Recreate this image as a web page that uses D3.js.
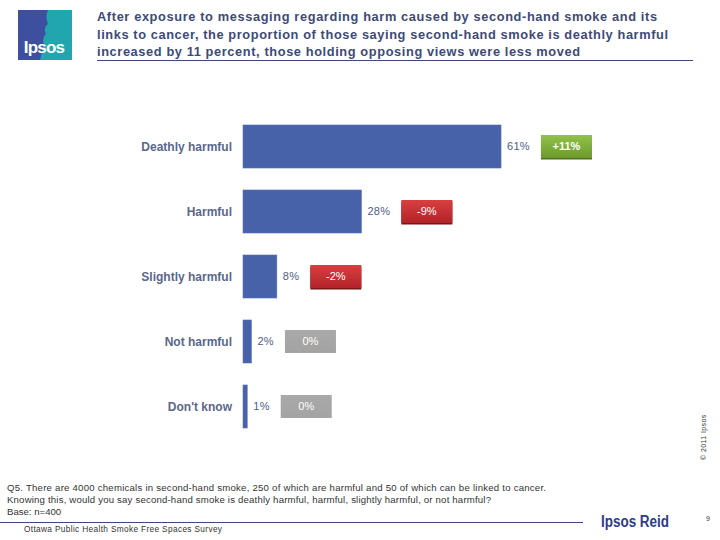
<!DOCTYPE html>
<html><head><meta charset="utf-8">
<script src="https://cdn.jsdelivr.net/npm/d3@7"></script>
<style>
html,body{margin:0;padding:0;background:#fff;}
svg{display:block;font-family:"Liberation Sans",Arial,sans-serif;}
</style></head>
<body>
<svg id="chart" width="720" height="540"></svg>
<script>
const categories = ["Deathly harmful","Harmful","Slightly harmful","Not harmful","Don't know"];
const values = [61, 28, 8, 2, 1];
const changes = [11, -9, -2, 0, 0];
const titleLines = [
  "After exposure to messaging regarding harm caused by second-hand smoke and its",
  "links to cancer, the proportion of those saying second-hand smoke is deathly harmful",
  "increased by 11 percent, those holding opposing views were less moved"
];
const footnoteLines = [
  "Q5.  There are 4000 chemicals in second-hand smoke, 250 of which are harmful and 50 of which can be linked to cancer.",
  "Knowing this, would you say second-hand smoke is deathly harmful, harmful, slightly harmful, or not harmful?",
  "Base: n=400"
];
const surveyName = "Ottawa Public Health Smoke Free Spaces Survey";

const svg = d3.select("#chart");
const defs = svg.append("defs");
function grad(id, top, bot){
  const g = defs.append("linearGradient").attr("id", id).attr("x1",0).attr("y1",0).attr("x2",0).attr("y2",1);
  g.append("stop").attr("offset","0%").attr("stop-color",top);
  g.append("stop").attr("offset","100%").attr("stop-color",bot);
}
grad("gGreen", "#92c24a", "#6c9a2c");
grad("gRed", "#d8403f", "#b3232a");
grad("gGray", "#a9a9a9", "#a3a3a3");

// Logo
const logo = svg.append("g");
logo.append("rect").attr("x",18).attr("y",10).attr("width",54).attr("height",50).attr("fill","#3e4fa0");
logo.append("path").attr("d","M48,10 L72,10 L72,60 L40,60 L44,44 C42,40 44,36 46,34 C44,30 45,26 48,24 C46,20 46,14 48,10 Z").attr("fill","#21a5ae");
logo.append("text").attr("x",44).attr("y",53).attr("text-anchor","middle").attr("fill","#fff")
  .attr("font-weight","bold").attr("font-size",17).attr("letter-spacing",-0.8).text("Ipsos");

// Title
const titleWidths = [560, 571, 483];
const title = svg.append("g");
titleLines.forEach((t,i)=>{
  title.append("text").attr("x",97).attr("y",21+i*17.5).attr("fill","#3d4a78")
    .attr("font-weight","bold").attr("font-size",12.8)
    .attr("textLength",titleWidths[i]).attr("lengthAdjust","spacing").text(t);
});
svg.append("line").attr("x1",97).attr("x2",693).attr("y1",60.5).attr("y2",60.5).attr("stroke","#3d4a78").attr("stroke-width",1);

// Scales
const x = d3.scaleLinear().domain([0,100]).range([243, 243+423]);
const y = d3.scaleBand().domain(categories).range([114,439]).paddingInner(0.338).paddingOuter(0.169);
const barEnd = i => x(0) + Math.max(3, x(values[i]) - x(0));

const rows = svg.append("g").selectAll("g").data(categories).join("g");
rows.append("rect")
  .attr("x", x(0)).attr("y", d=>y(d))
  .attr("width", (d,i)=>barEnd(i)-x(0))
  .attr("height", y.bandwidth())
  .attr("fill","#4862a9").attr("stroke","#5a75b8").attr("stroke-width",0.6);

rows.append("text")
  .attr("x",232).attr("y", d=>y(d)+y.bandwidth()/2).attr("dy","0.35em")
  .attr("text-anchor","end").attr("fill","#5a678b").attr("font-weight","bold").attr("font-size",12)
  .text(d=>d);

const vlabels = rows.append("text")
  .attr("x",(d,i)=>barEnd(i)+6).attr("y", d=>y(d)+y.bandwidth()/2).attr("dy","0.35em")
  .attr("fill","#4f5c85").attr("font-size",11).attr("letter-spacing",0.3)
  .text((d,i)=>values[i]+"%");

vlabels.each(function(d,i){
  const lx = +this.getAttribute("x") + this.getComputedTextLength();
  const bx = lx + 11, bw = 51, bh = 23;
  const cy = y(d)+y.bandwidth()/2;
  const g = d3.select(this.parentNode);
  const c = changes[i];
  const fill = c>0 ? "url(#gGreen)" : c<0 ? "url(#gRed)" : "url(#gGray)";
  if (c !== 0) {
    g.append("rect").attr("x",bx).attr("y",cy-bh/2+1.5).attr("width",bw).attr("height",bh)
      .attr("fill", c>0 ? "#4f6f1f" : "#7a1518");
  }
  g.append("rect").attr("x",bx).attr("y",cy-bh/2).attr("width",bw).attr("height",bh).attr("fill",fill);
  g.append("text").attr("x",bx+bw/2).attr("y",cy).attr("dy","0.35em").attr("text-anchor","middle")
    .attr("fill","#fff").attr("font-size",11).attr("font-weight", c>0?"bold":"normal")
    .text((c>0?"+":"")+c+"%");
});

// Footnote
const footWidths = [539, 484, null];
footnoteLines.forEach((t,i)=>{
  const tx = svg.append("text").attr("x",7).attr("y",491+i*12).attr("fill","#333").attr("font-size",9.6).text(t);
  if (footWidths[i]) tx.attr("textLength",footWidths[i]).attr("lengthAdjust","spacing");
});
svg.append("line").attr("x1",0).attr("x2",583).attr("y1",522.5).attr("y2",522.5).attr("stroke","#3d4a78").attr("stroke-width",1);
svg.append("text").attr("x",24).attr("y",532).attr("fill","#333").attr("font-size",8.3)
  .attr("textLength",198).attr("lengthAdjust","spacing").text(surveyName);
svg.append("text").attr("x",601).attr("y",527).attr("fill","#2d3c8c").attr("font-weight","bold")
  .attr("font-size",16).attr("textLength",68).attr("lengthAdjust","spacingAndGlyphs").text("Ipsos Reid");
svg.append("text").attr("x",706).attr("y",521).attr("fill","#333").attr("font-size",7).text("9");
svg.append("text").attr("transform","translate(706,460) rotate(-90)").attr("fill","#333")
  .attr("font-size",7).attr("letter-spacing",0.4).text("© 2011 Ipsos");
</script>
</body></html>
